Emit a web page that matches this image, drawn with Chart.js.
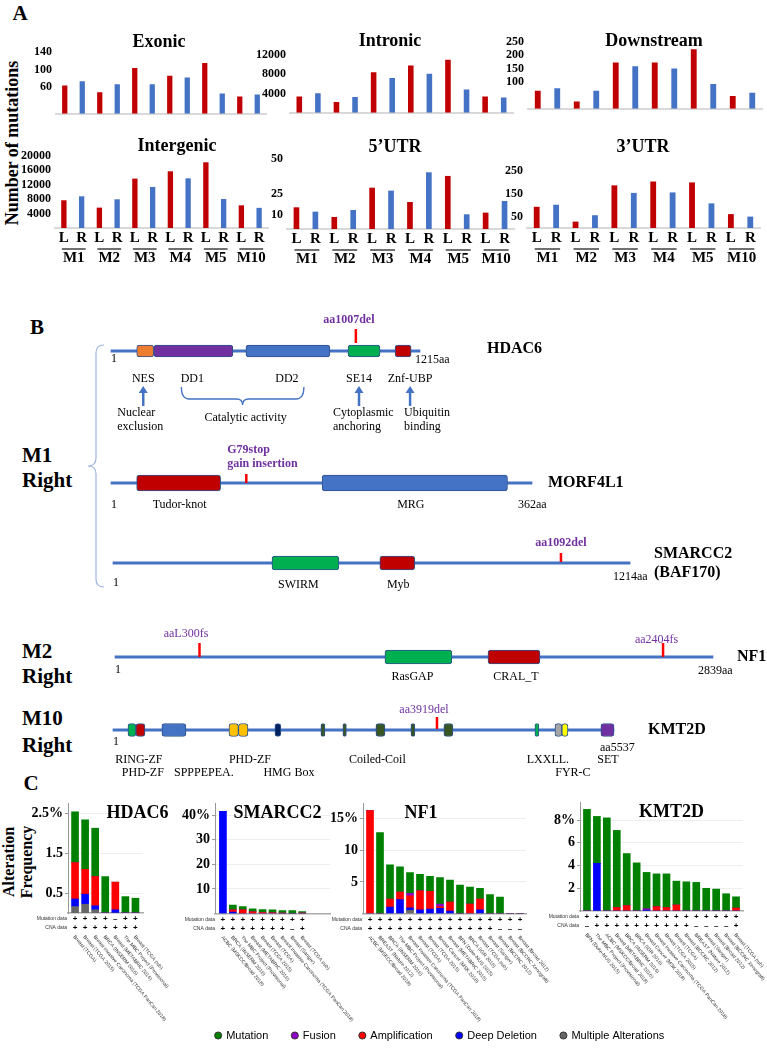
<!DOCTYPE html>
<html>
<head>
<meta charset="utf-8">
<title>Mutation burden and altered genes</title>
<script src="https://cdn.jsdelivr.net/npm/chart.js@4.4.1/dist/chart.umd.min.js"></script>
<style>
  body { margin: 0; background: #fff; }
  #page { position: relative; width: 767px; height: 1050px; overflow: hidden; background: #fff; }
  #page canvas { position: absolute; }
  .tag { position: absolute; font-family: "Liberation Serif", "Times New Roman", serif; font-weight: bold; color: #000; white-space: nowrap; }
  .mid { transform: translate(-50%, -50%); }
</style>
</head>
<body>
<div id="page">
  <div class="tag mid" style="left:20px;top:13px;font-size:21px;">A</div>
  <div class="tag" style="left:12px;top:143px;font-size:18px;transform:translate(-50%,-50%) rotate(-90deg);">Number of mutations</div>
  <div class="tag mid" style="left:37px;top:327px;font-size:21px;">B</div>
  <div class="tag" style="left:22px;top:443px;font-size:21px;line-height:25px;">M1<br>Right</div>
  <div class="tag" style="left:22px;top:639px;font-size:21px;line-height:25px;">M2<br>Right</div>
  <div class="tag" style="left:22px;top:705px;font-size:21px;line-height:27px;">M10<br>Right</div>
  <div class="tag mid" style="left:31px;top:783px;font-size:21px;">C</div>
  <div class="tag" style="left:18px;top:862px;font-size:16px;line-height:18px;text-align:center;transform:translate(-50%,-50%) rotate(-90deg);">Alteration<br>Frequency</div>
</div>
<script>
const SERIF = '"Liberation Serif", "Times New Roman", serif';
const SANS = '"Liberation Sans", Arial, sans-serif';
const RED = '#C00000', BLUE = '#4472C4';

Chart.defaults.animation = false;
Chart.defaults.responsive = false;
Chart.defaults.devicePixelRatio = 1;
Chart.defaults.events = [];
Chart.defaults.font.family = SERIF;
Chart.defaults.plugins.legend.display = false;
Chart.defaults.plugins.tooltip.enabled = false;

//! Panel A data >>
const mice = ['M1', 'M2', 'M3', 'M4', 'M5', 'M10'];
const sides = ['L', 'R', 'L', 'R', 'L', 'R', 'L', 'R', 'L', 'R', 'L', 'R'];
const exonic = [64, 74, 49, 67, 104, 67, 86, 82, 115, 46, 39, 44];
const intronic = [3400, 4040, 2230, 3290, 8430, 7200, 9800, 8130, 11030, 4840, 3400, 3160];
const downstream = [68, 77, 27, 68, 173, 159, 173, 151, 223, 93, 48, 60];
const intergenic = [7700, 8800, 5660, 7970, 13720, 11400, 15750, 13800, 18250, 8060, 6300, 5600];
const utr5 = [15.5, 12.4, 8.6, 13.6, 29.5, 27.4, 19.3, 40.5, 37.9, 10.5, 11.7, 20];
const utr3 = [93, 102, 28, 56, 187, 154, 204, 156, 200, 108, 61, 50];
const exonicTicks = [60, 100, 140];
const intronicTicks = [4000, 8000, 12000];
const downstreamTicks = [100, 150, 200, 250];
const intergenicTicks = [4000, 8000, 12000, 16000, 20000];
const utr5Ticks = [10, 25, 50];
const utr3Ticks = [50, 150, 250];

//! Panel B data >>
const hdac6Len = 1215;
const hdac6Names = ['NES', 'DD1', 'DD2', 'SE14', 'Znf-UBP'];
const hdac6Starts = [102, 169, 531, 932, 1117];
const hdac6Ends = [169, 480, 861, 1058, 1180];
const hdac6Muts = [963];
const hdac6MutLabels = [['aa1007del']];
const hdac6Notes = [['Nuclear', 'exclusion'], ['Cytoplasmic', 'anchoring'], ['Ubiquitin', 'binding']];
const hdac6NoteDomains = [0, 3, 4];

const morfLen = 362;
const morfNames = ['Tudor-knot', 'MRG'];
const morfStarts = [23, 182];
const morfEnds = [95, 341];
const morfMuts = [117];
const morfMutLabels = [['G79stop', 'gain insertion']];

const smarcLen = 1214;
const smarcNames = ['SWIRM', 'Myb'];
const smarcStarts = [374, 627];
const smarcEnds = [531, 709];
const smarcMuts = [1052];
const smarcMutLabels = [['aa1092del']];

const nf1Len = 2839;
const nf1Names = ['RasGAP', 'CRAL_T'];
const nf1Starts = [1282, 1771];
const nf1Ends = [1600, 2018];
const nf1Muts = [402, 2602];
const nf1MutLabels = [['aaL300fs'], ['aa2404fs']];

const kmtLen = 5537;
const kmtStarts = [166, 254, 541, 1282, 1387, 1790, 2298, 2541, 2906, 3293, 3657, 4663, 4884, 4961, 5392];
const kmtEnds = [254, 354, 807, 1387, 1492, 1856, 2343, 2580, 3006, 3337, 3757, 4707, 4961, 5028, 5537];
const kmtMuts = [3581];
const kmtMutLabels = [['aa3919del']];
const kmtLabels = ['RING-ZF', 'PHD-ZF', 'Coiled-Coil', 'LXXLL.', 'SET', 'PHD-ZF', 'SPPPEPEA.', 'HMG Box', 'FYR-C'];
const kmtLabelPos = [287, 1514, 2923, 4807, 5470, 331, 1005, 1945, 5083];
const kmtLabelRow = [0, 0, 0, 0, 0, 1, 1, 1, 1];

//! Panel C data (alteration frequency, %) >>
const hdacStudies = ['Breast (TCGA)', 'Breast (TCGA 2015)', 'Breast Invasive Carcinoma (TCGA PanCan 2018)', 'BRCA (INSERM 2016)', 'Breast (METABRIC 2016)', 'The MBC Project (Provisional)', 'Breast (TCGA pub)'];
const hdacMutation = [1.27, 1.24, 1.21, 0.91, 0, 0.41, 0.37];
const hdacFusion = [0, 0, 0, 0, 0, 0, 0];
const hdacAmp = [0.91, 0.62, 0.73, 0, 0.69, 0, 0];
const hdacDeep = [0.19, 0.25, 0.10, 0, 0.08, 0, 0];
const hdacMulti = [0.16, 0.22, 0.08, 0, 0, 0, 0];
const hdacMutProfiled = [1, 1, 1, 1, 0, 1, 1];
const hdacCnaProfiled = [1, 1, 1, 1, 1, 1, 1];

const smarcStudies = ['ACBC (MSKCC/Broad 2018)', 'BRCA (INSERM 2016)', 'The MBC Project (Provisional)', 'Breast (METABRIC 2016)', 'Breast (TCGA 2015)', 'Breast (TCGA)', 'Breast Invasive Carcinoma (TCGA PanCan 2018)', 'Breast (Sanger)', 'Breast (TCGA pub)'];
const smarcMutation = [0, 1.9, 1.3, 1.2, 1.2, 1.2, 1.0, 1.2, 0.6];
const smarcFusion = [0, 0, 0, 0, 0, 0, 0, 0, 0];
const smarcAmp = [0, 0.9, 1.5, 0.7, 0.4, 0.3, 0.2, 0, 0.2];
const smarcDeep = [41.6, 0.6, 0, 0, 0, 0, 0, 0, 0];
const smarcMulti = [0, 0, 0, 0, 0, 0, 0, 0, 0];
const smarcMutProfiled = [1, 1, 1, 1, 1, 1, 1, 1, 1];
const smarcCnaProfiled = [1, 1, 1, 1, 1, 1, 1, 0, 1];

const nf1Studies = ['ACBC (MSKCC/Broad 2018)', 'BREAST (Nature 2012)', 'BRCA (INSERM 2016)', 'The MBC Project (Provisional)', 'Breast Invasive Carcinoma (TCGA PanCan 2018)', 'Breast (TCGA)', 'Breast (TCGA 2015)', 'Breast Cancer (MSK 2018)', 'Breast (METABRIC 2016)', 'BFN (Duke-NUS 2015)', 'BRCA (IGR 2016)', 'Breast (TCGA pub)', 'Breast (Sanger)', 'Breast (BCCRC 2012)', 'Breast (BCCRC Xenograft)', 'Breast (Broad 2012)'];
const nf1Mutation = [0, 12.8, 5.4, 4.0, 3.3, 2.6, 2.4, 4.2, 3.5, 4.5, 2.7, 1.7, 3.0, 2.6, 0, 0];
const nf1Fusion = [0, 0, 0, 0, 0.4, 0, 0, 0.4, 0, 0, 0, 0, 0, 0, 0, 0];
const nf1Amp = [16.3, 0, 1.3, 1.2, 1.9, 3.0, 2.8, 0.3, 1.4, 0, 1.5, 1.7, 0, 0, 0, 0];
const nf1Deep = [0, 0, 1.0, 2.2, 0.4, 0.6, 0.7, 0.8, 0.4, 0, 0, 0.6, 0, 0, 0, 0];
const nf1Multi = [0, 0, 0, 0, 0.5, 0, 0, 0, 0, 0, 0, 0, 0, 0, 0, 0];
const nf1MutProfiled = [1, 1, 1, 1, 1, 1, 1, 1, 1, 1, 1, 1, 1, 1, 1, 1];
const nf1CnaProfiled = [1, 1, 1, 1, 1, 1, 1, 1, 1, 1, 1, 1, 1, 0, 0, 0];

const kmtStudies = ['BFN (Duke-NUS 2015)', 'The MBC Project (Provisional)', 'ACBC (MSKCC/Broad 2018)', 'Breast (METABRIC 2016)', 'BRCA (INSERM 2016)', 'BRCA (IGR 2016)', 'Breast Cancer (MSK 2018)', 'Breast Invasive Carcinoma (TCGA PanCan 2018)', 'Breast (TCGA 2015)', 'Breast (TCGA)', 'Breast (BCCRC 2012)', 'BREAST (Nature 2012)', 'Breast (Sanger)', 'Breast (Broad 2012)', 'Breast (BCCRC Xenograft)', 'Breast (TCGA pub)'];
const kmtMutation = [8.95, 4.13, 8.2, 6.8, 4.59, 4.24, 3.2, 2.89, 2.97, 2.1, 2.57, 2.52, 2.0, 1.93, 1.52, 1.0];
const kmtFusion = [0, 0, 0, 0, 0, 0, 0.12, 0, 0, 0, 0, 0, 0, 0, 0, 0];
const kmtAmp = [0, 0, 0, 0.3, 0.47, 0, 0, 0.38, 0.3, 0.53, 0, 0, 0, 0, 0, 0.25];
const kmtDeep = [0, 4.2, 0, 0, 0, 0, 0.08, 0, 0, 0, 0, 0, 0, 0, 0, 0];
const kmtMulti = [0, 0, 0, 0, 0, 0, 0, 0, 0, 0, 0, 0, 0, 0, 0, 0];
const kmtMutProfiled = [1, 1, 1, 1, 1, 1, 1, 1, 1, 1, 1, 1, 1, 1, 1, 1];
const kmtCnaProfiled = [0, 1, 1, 1, 1, 1, 1, 1, 1, 1, 1, 0, 0, 0, 0, 1];

const legendNames = ['Mutation', 'Fusion', 'Amplification', 'Deep Deletion', 'Multiple Alterations'];
const legendColors = ['#008000', '#8E00C8', '#FF0000', '#0000FF', '#666666'];


//! helpers >>
const page = document.getElementById('page');

function addCanvas(left, top, w, h) {
  const cv = document.createElement('canvas');
  cv.width = w; cv.height = h;
  cv.style.left = left + 'px'; cv.style.top = top + 'px';
  cv.style.width = w + 'px'; cv.style.height = h + 'px';
  page.appendChild(cv);
  return cv;
}

function txt(ctx, s, x, y, font, color, align) {
  ctx.save();
  ctx.font = font;
  ctx.fillStyle = color || '#000';
  ctx.textAlign = align || 'center';
  ctx.textBaseline = 'middle';
  ctx.fillText(s, x, y);
  ctx.restore();
}

function arrowUp(ctx, x, yFrom, yTip) {
  ctx.save();
  ctx.strokeStyle = ctx.fillStyle = '#4472C4';
  ctx.lineWidth = 2.5;
  ctx.beginPath(); ctx.moveTo(x, yFrom); ctx.lineTo(x, yTip + 6); ctx.stroke();
  ctx.beginPath(); ctx.moveTo(x - 4.5, yTip + 7); ctx.lineTo(x, yTip); ctx.lineTo(x + 4.5, yTip + 7); ctx.closePath(); ctx.fill();
  ctx.restore();
}


//! Panel A - mutations per genomic region >>
function regionChart(c) {
  const padL = 45, padR = 4;
  const bottomH = c.showX ? 42 : 3;
  const cvLeft = c.x0 - padL;
  const cv = addCanvas(cvLeft, c.top, padL + (c.x1 - c.x0) + padR, c.yBot - c.top + bottomH);

  const deco = {
    id: 'regionDeco',
    afterDraw(chart) {
      const ctx = chart.ctx;
      txt(ctx, c.title, c.titleX - cvLeft, c.titleY - c.top, 'bold 18px ' + SERIF);
      if (!c.showX) return;
      const xs = chart.scales.x, b = chart.chartArea.bottom;
      mice.forEach((m, g) => {
        const xl = xs.getPixelForValue(2 * g), xr = xs.getPixelForValue(2 * g + 1);
        ctx.save();
        ctx.strokeStyle = '#222'; ctx.lineWidth = 1.3;
        ctx.beginPath(); ctx.moveTo(xl - 2, b + 21); ctx.lineTo(xr + 4, b + 21); ctx.stroke();
        ctx.restore();
        txt(ctx, m, (xl + xr) / 2 + 1, b + 30, 'bold 15px ' + SERIF);
      });
    }
  };

  new Chart(cv, {
    type: 'bar',
    data: {
      labels: sides,
      datasets: [{
        data: c.values,
        backgroundColor: sides.map(s => s === 'L' ? RED : BLUE),
        barPercentage: 0.3,
        categoryPercentage: 1
      }]
    },
    options: {
      layout: { padding: { left: 0, right: padR, top: c.yTop - c.top, bottom: 0 } },
      scales: {
        x: {
          grid: { display: false, drawTicks: false },
          border: { color: '#d9d9d9', width: 2 },
          ticks: { display: c.showX, autoSkip: false, maxRotation: 0, padding: 1, color: '#000', font: { family: SERIF, size: 15, weight: 'bold' } },
          afterFit: s => { s.height = bottomH; }
        },
        y: {
          min: 0, max: c.max,
          grid: { display: false, drawTicks: false },
          border: { display: false },
          afterBuildTicks: s => { s.ticks = c.ticks.map(v => ({ value: v })); },
          ticks: { padding: 4, color: '#000', font: { family: SERIF, size: 12, weight: 'bold' }, callback: v => String(v) },
          afterFit: s => { s.width = padL; }
        }
      }
    },
    plugins: [deco]
  });
}

regionChart({ title: 'Exonic', values: exonic, ticks: exonicTicks, max: 140, x0: 56, x1: 266, yTop: 52, yBot: 122, top: 24, titleX: 159, titleY: 42, showX: false });
regionChart({ title: 'Intronic', values: intronic, ticks: intronicTicks, max: 12000, x0: 290, x1: 513, yTop: 55, yBot: 121, top: 24, titleX: 390, titleY: 41, showX: false });
regionChart({ title: 'Downstream', values: downstream, ticks: downstreamTicks, max: 250, x0: 528, x1: 762, yTop: 42, yBot: 117, top: 24, titleX: 654, titleY: 41, showX: false });
regionChart({ title: 'Intergenic', values: intergenic, ticks: intergenicTicks, max: 20000, x0: 55, x1: 268, yTop: 156, yBot: 228, top: 128, titleX: 177, titleY: 146, showX: true });
regionChart({ title: '5’UTR', values: utr5, ticks: utr5Ticks, max: 50, x0: 287, x1: 514, yTop: 159, yBot: 229, top: 128, titleX: 395, titleY: 147, showX: true });
regionChart({ title: '3’UTR', values: utr3, ticks: utr3Ticks, max: 250, x0: 527, x1: 760, yTop: 171, yBot: 228, top: 128, titleX: 643, titleY: 147, showX: true });


//! Panel B - protein domain maps >>
function proteinChart(p) {
  const cv = addCanvas(0, p.top, 767, p.bottom - p.top);
  const deco = {
    id: 'proteinDeco',
    afterDatasetsDraw(chart) {
      const ctx = chart.ctx, xs = chart.scales.x, ys = chart.scales.y;
      const X = v => xs.getPixelForValue(v);
      const Y = d => ys.getPixelForValue(d);
      const x0 = X(1), x1 = X(p.len);
      txt(ctx, '1', x0 + 3, Y(p.oneDy), '12px ' + SERIF);
      txt(ctx, p.endText, x1 + p.endDx, Y(p.endDy), '12px ' + SERIF, '#000', 'left');
      p.gene.forEach((g, i) => txt(ctx, g, x1 + p.geneDx, Y(p.geneDy[i]), 'bold 16px ' + SERIF, '#000', 'left'));
      if (p.names) {
        p.names.forEach((nm, i) => txt(ctx, nm, X((p.starts[i] + p.ends[i]) / 2) + p.nameDx[i], Y(p.nameDy), '12px ' + SERIF));
      }
      p.muts.forEach((m, i) => {
        const st = p.mutStyle[i];
        p.mutLabels[i].forEach((line, j) => {
          txt(ctx, line, X(m) + st.dx, Y(st.dy + j * 14), (st.bold ? 'bold ' : '') + '12px ' + SERIF, '#7030A0', st.align || 'center');
        });
      });
      if (p.extra) p.extra(ctx, X, Y);
    }
  };

  new Chart(cv, {
    type: 'bar',
    data: {
      datasets: [
        {
          type: 'scatter',
          data: p.muts.map(m => ({ x: m, y: -p.mutUp })),
          pointStyle: 'line', pointRotation: 90, pointRadius: p.mutHalf,
          pointBorderColor: '#FF0000', pointBorderWidth: 2.5,
          order: 0, clip: false
        },
        {
          data: p.starts.map((s, i) => ({ x: [s, p.ends[i]], y: 0 })),
          indexAxis: 'y', grouped: false, barThickness: p.boxH,
          backgroundColor: p.colors, borderColor: '#2F528F', borderWidth: 1,
          borderRadius: 3, borderSkipped: false,
          order: 1, clip: false
        },
        {
          data: [{ x: [1, p.len], y: 0 }],
          indexAxis: 'y', grouped: false, barThickness: 2.5,
          backgroundColor: '#4472C4', borderWidth: 0,
          order: 2, clip: false
        }
      ]
    },
    options: {
      layout: { autoPadding: false, padding: { left: p.x0, right: 767 - p.x1, top: 0, bottom: 0 } },
      scales: {
        x: { type: 'linear', min: 1, max: p.len, offset: false, grid: { offset: false }, display: false },
        y: { type: 'linear', min: -(p.lineY - p.top), max: p.bottom - p.lineY, reverse: true, offset: false, grid: { offset: false }, display: false }
      }
    },
    plugins: [deco]
  });
}

const hdac6NameDx = [-2, -1, -1, -5, 7];
const hdac6NoteDx = [-26, -26, -6];

proteinChart({
  top: 308, bottom: 440, lineY: 351, x0: 111, x1: 420, len: hdac6Len,
  starts: hdac6Starts, ends: hdac6Ends, names: hdac6Names, nameDx: hdac6NameDx, nameDy: 28,
  colors: ['#ED7D31', '#7030A0', '#4472C4', '#00B050', '#C00000'], boxH: 12,
  muts: hdac6Muts, mutLabels: hdac6MutLabels, mutUp: 15, mutHalf: 7,
  mutStyle: [{ dx: -7, dy: -31, bold: true }],
  oneDy: 8, endText: '1215aa', endDx: -5, endDy: 9,
  gene: ['HDAC6'], geneDx: 67, geneDy: [-2],
  extra(ctx, X, Y) {
    hdac6Notes.forEach((lines, k) => {
      const d = hdac6NoteDomains[k];
      const ax = X((hdac6Starts[d] + hdac6Ends[d]) / 2) + hdac6NameDx[d];
      arrowUp(ctx, ax, Y(55), Y(35));
      lines.forEach((ln, j) => txt(ctx, ln, ax + hdac6NoteDx[k], Y(62 + j * 14), '12px ' + SERIF, '#000', 'left'));
    });
    const a = X((hdac6Starts[1] + hdac6Ends[1]) / 2) - 12;
    const b = X((hdac6Starts[2] + hdac6Ends[2]) / 2) + 16;
    const m = (a + b) / 2;
    ctx.save();
    ctx.strokeStyle = '#4472C4'; ctx.lineWidth = 1.3;
    ctx.beginPath();
    ctx.moveTo(a, Y(36));
    ctx.quadraticCurveTo(a, Y(48), a + 8, Y(48));
    ctx.lineTo(m - 6, Y(48));
    ctx.quadraticCurveTo(m, Y(48), m, Y(54));
    ctx.quadraticCurveTo(m, Y(48), m + 6, Y(48));
    ctx.lineTo(b - 8, Y(48));
    ctx.quadraticCurveTo(b, Y(48), b, Y(36));
    ctx.stroke();
    ctx.restore();
    txt(ctx, 'Catalytic activity', m + 3, Y(67), '12px ' + SERIF);
  }
});

proteinChart({
  top: 340, bottom: 600, lineY: 483, x0: 111, x1: 532, len: morfLen,
  starts: morfStarts, ends: morfEnds, names: morfNames, nameDx: [1, -4], nameDy: 22,
  colors: ['#C00000', '#4472C4'], boxH: 16,
  muts: morfMuts, mutLabels: morfMutLabels, mutUp: 4.5, mutHalf: 4.5,
  mutStyle: [{ dx: -19, dy: -33, bold: true, align: 'left' }],
  oneDy: 22, endText: '362aa', endDx: -14, endDy: 22,
  gene: ['MORF4L1'], geneDx: 16, geneDy: [0],
  extra(ctx, X, Y) {
    // bracket grouping the three M1 Right genes
    ctx.save();
    ctx.strokeStyle = '#9DB5DE'; ctx.lineWidth = 1.2;
    ctx.beginPath();
    ctx.moveTo(104, Y(-138));
    ctx.quadraticCurveTo(96, Y(-138), 96, Y(-130));
    ctx.lineTo(96, Y(-25));
    ctx.quadraticCurveTo(96, Y(-17), 88, Y(-17));
    ctx.quadraticCurveTo(96, Y(-17), 96, Y(-9));
    ctx.lineTo(96, Y(96));
    ctx.quadraticCurveTo(96, Y(104), 104, Y(104));
    ctx.stroke();
    ctx.restore();
  }
});

proteinChart({
  top: 530, bottom: 600, lineY: 563, x0: 113, x1: 630, len: smarcLen,
  starts: smarcStarts, ends: smarcEnds, names: smarcNames, nameDx: [-7, 1], nameDy: 22,
  colors: ['#00B050', '#C00000'], boxH: 14,
  muts: smarcMuts, mutLabels: smarcMutLabels, mutUp: 5.5, mutHalf: 4.5,
  mutStyle: [{ dx: 0, dy: -20, bold: true }],
  oneDy: 20, endText: '1214aa', endDx: -17, endDy: 14,
  gene: ['SMARCC2', '(BAF170)'], geneDx: 24, geneDy: [-9, 10]
});

proteinChart({
  top: 620, bottom: 692, lineY: 657, x0: 115, x1: 713, len: nf1Len,
  starts: nf1Starts, ends: nf1Ends, names: nf1Names, nameDx: [-6, 2], nameDy: 20,
  colors: ['#00B050', '#C00000'], boxH: 14,
  muts: nf1Muts, mutLabels: nf1MutLabels, mutUp: 7, mutHalf: 7,
  mutStyle: [{ dx: -13.5, dy: -23 }, { dx: -6.5, dy: -17 }],
  oneDy: 13, endText: '2839aa', endDx: -15, endDy: 14,
  gene: ['NF1'], geneDx: 24, geneDy: [0]
});

proteinChart({
  top: 700, bottom: 784, lineY: 730, x0: 113, x1: 614, len: kmtLen,
  starts: kmtStarts, ends: kmtEnds, names: null,
  colors: ['#00B050', '#C00000', '#4472C4', '#FFC000', '#FFC000', '#002060', '#375623', '#375623', '#375623', '#375623', '#375623', '#00B050', '#A5A5A5', '#FFFF00', '#7030A0'],
  boxH: 13,
  muts: kmtMuts, mutLabels: kmtMutLabels, mutUp: 7, mutHalf: 6,
  mutStyle: [{ dx: -13, dy: -20 }],
  oneDy: 12, endText: 'aa5537', endDx: -14, endDy: 18,
  gene: ['KMT2D'], geneDx: 34, geneDy: [0],
  extra(ctx, X, Y) {
    kmtLabels.forEach((t, i) => txt(ctx, t, X(kmtLabelPos[i]), Y(kmtLabelRow[i] ? 43 : 30), '12px ' + SERIF));
  }
});


//! Panel C - alteration frequency in breast cancer studies >>
function alterChart(c) {
  const padL = 62, padR = 60, cvTop = 790, cvBot = 1030;
  const cvLeft = c.left - padL;
  const cv = addCanvas(cvLeft, cvTop, padL + (c.right - c.left) + padR, cvBot - cvTop);
  const series = [
    { label: 'Multiple Alterations', values: c.multi, color: '#666666' },
    { label: 'Deep Deletion', values: c.deep, color: '#0000FF' },
    { label: 'Amplification', values: c.amp, color: '#FF0000' },
    { label: 'Fusion', values: c.fusion, color: '#8E00C8' },
    { label: 'Mutation', values: c.mut, color: '#008000' }
  ];
  const topTick = c.ticks[c.ticks.length - 1];

  const deco = {
    id: 'alterDeco',
    afterDatasetsDraw(chart) {
      const ctx = chart.ctx, xs = chart.scales.x, b = chart.chartArea.bottom;
      txt(ctx, c.title, c.titleX - cvLeft, c.titleY - cvTop, 'bold 18px ' + SERIF);
      const first = xs.getPixelForValue(0);
      txt(ctx, 'Mutation data', first - 8, b + 6, '5px ' + SANS, '#333', 'right');
      txt(ctx, 'CNA data', first - 8, b + 15, '5px ' + SANS, '#333', 'right');
      c.studies.forEach((s, i) => {
        const x = xs.getPixelForValue(i);
        txt(ctx, c.mutP[i] ? '+' : '–', x, b + 6, 'bold 8px ' + SANS);
        txt(ctx, c.cnaP[i] ? '+' : '–', x, b + 15, 'bold 8px ' + SANS);
        ctx.save();
        ctx.translate(x - 1, b + 23);
        ctx.rotate(50 * Math.PI / 180);
        ctx.font = '5px ' + SANS; ctx.fillStyle = '#333';
        ctx.textAlign = 'left'; ctx.textBaseline = 'middle';
        ctx.fillText(s, 0, 0);
        ctx.restore();
      });
    }
  };

  new Chart(cv, {
    type: 'bar',
    data: {
      datasets: series.map(s => ({
        label: s.label,
        data: s.values.map((v, i) => ({ x: i, y: v })),
        backgroundColor: s.color,
        barThickness: 7
      }))
    },
    options: {
      layout: { padding: { left: 0, right: padR, top: c.top - cvTop, bottom: cvBot - c.bottom } },
      scales: {
        x: {
          type: 'linear', stacked: true, min: c.xmin, max: c.xmax, offset: false,
          grid: { display: false, drawTicks: false, offset: false },
          ticks: { display: false },
          border: { color: '#aaaaaa', width: 1.5 },
          afterFit: s => { s.height = 0; }
        },
        y: {
          stacked: true, min: 0, max: c.max,
          afterBuildTicks: s => { s.ticks = c.ticks.map(v => ({ value: v })); },
          ticks: { padding: 2, color: '#000', font: { family: SERIF, size: 14, weight: 'bold' }, callback: v => v === topTick ? v + '%' : String(v) },
          grid: { color: '#eeeeee', tickColor: '#999', tickLength: 3 },
          border: { color: '#999' },
          afterFit: s => { s.width = padL; }
        }
      }
    },
    plugins: [deco]
  });
}

alterChart({ title: 'HDAC6', titleX: 137.5, titleY: 813, left: 68, right: 143, top: 803, bottom: 913, max: 2.75, ticks: [0.5, 1.5, 2.5], xmin: -0.7, xmax: 6.75,
  studies: hdacStudies, mut: hdacMutation, fusion: hdacFusion, amp: hdacAmp, deep: hdacDeep, multi: hdacMulti, mutP: hdacMutProfiled, cnaP: hdacCnaProfiled });
alterChart({ title: 'SMARCC2', titleX: 277.5, titleY: 813, left: 215, right: 330, top: 803, bottom: 913.5, max: 45, ticks: [10, 20, 30, 40], xmin: -0.8, xmax: 10.8,
  studies: smarcStudies, mut: smarcMutation, fusion: smarcFusion, amp: smarcAmp, deep: smarcDeep, multi: smarcMulti, mutP: smarcMutProfiled, cnaP: smarcCnaProfiled });
alterChart({ title: 'NF1', titleX: 421, titleY: 813, left: 363, right: 526, top: 803, bottom: 913.5, max: 17.5, ticks: [5, 10, 15], xmin: -0.7, xmax: 15.6,
  studies: nf1Studies, mut: nf1Mutation, fusion: nf1Fusion, amp: nf1Amp, deep: nf1Deep, multi: nf1Multi, mutP: nf1MutProfiled, cnaP: nf1CnaProfiled });
alterChart({ title: 'KMT2D', titleX: 671.5, titleY: 812, left: 580, right: 743, top: 802, bottom: 911, max: 9.6, ticks: [2, 4, 6, 8], xmin: -0.7, xmax: 15.7,
  studies: kmtStudies, mut: kmtMutation, fusion: kmtFusion, amp: kmtAmp, deep: kmtDeep, multi: kmtMulti, mutP: kmtMutProfiled, cnaP: kmtCnaProfiled });


//! shared legend >>
new Chart(addCanvas(150, 1006, 580, 130), {
  type: 'bar',
  data: {
    labels: [''],
    datasets: legendNames.map((n, i) => ({ label: n, data: [null], backgroundColor: legendColors[i], borderColor: '#333', borderWidth: 1 }))
  },
  options: {
    scales: { x: { display: false }, y: { display: false } },
    plugins: {
      legend: {
        display: true,
        labels: { usePointStyle: true, pointStyle: 'circle', boxWidth: 5, boxHeight: 5, padding: 24, color: '#000', font: { family: SANS, size: 11 } }
      }
    }
  }
});
</script>
</body>
</html>
